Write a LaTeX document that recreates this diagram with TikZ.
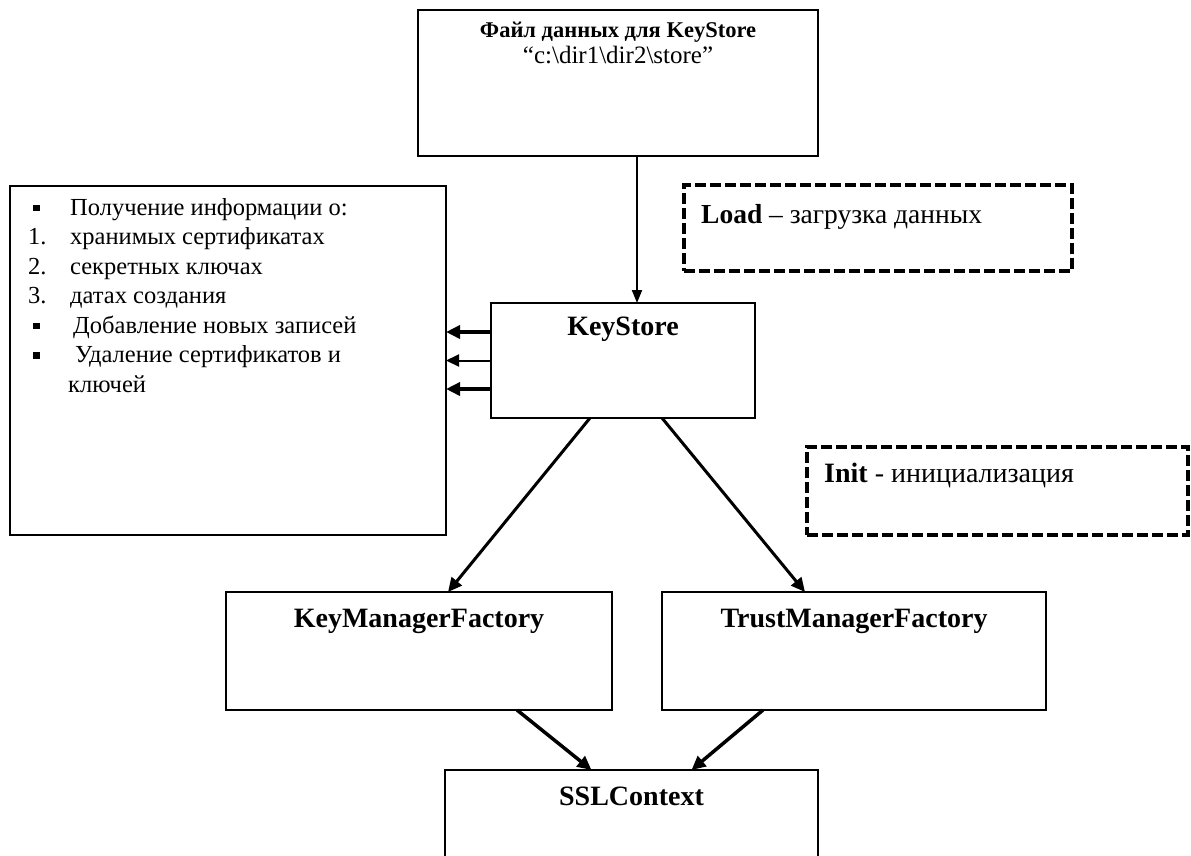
\documentclass[tikz,border=0pt]{standalone}
\usepackage{fontspec}
\setmainfont{Liberation Serif}
\usetikzlibrary{positioning,arrows.meta}

\newcommand{\mk}[1]{\makebox[42pt][l]{#1}}
\newcommand{\sq}{\hspace{5pt}\rule[4pt]{6.5pt}{6.5pt}}

\begin{document}
\begin{tikzpicture}[x=1pt, y=1pt,
    block/.style={rectangle, draw, line width=1.6pt, inner sep=0pt, outer sep=0pt},
    note/.style={rectangle, draw, line width=3.5pt, dash pattern=on 11pt off 4pt,
                 inner sep=0pt, outer sep=0pt},
    title/.style={inner sep=0pt, font=\fontsize{28}{30}\selectfont\bfseries},
    plain/.style={inner sep=0pt, font=\fontsize{24.5}{29.5}\selectfont},
    arr/.style={-{Triangle[length=14pt,width=13pt]}}]

   \useasboundingbox (0,0) rectangle (1191,-855);
   \clip (0,0) rectangle (1191,-855);

   % boxes
   \node[block, minimum width=400pt, minimum height=146pt] (file) at (618,-83)    {};
   \node[block, minimum width=264pt, minimum height=115pt] (ks)   at (623,-360.5) {};
   \node[block, minimum width=436pt, minimum height=349pt] (info) at (228,-360.5) {};
   \node[block, minimum width=386pt, minimum height=118pt] (kmf)  at (419,-651)   {};
   \node[block, minimum width=384pt, minimum height=118pt] (tmf)  at (854,-651)   {};
   \node[block, minimum width=373pt, minimum height=130pt] (ssl)  at (631.5,-835) {};
   \node[note,  minimum width=388pt, minimum height=86pt]  (load) at (878,-228)   {};
   \node[note,  minimum width=381pt, minimum height=88pt]  (init) at (997.5,-491) {};

   % texts
   \node[title, font=\fontsize{22.5}{26}\selectfont\bfseries, align=center,
         below=12pt of file.north] (filetxt)
        {Файл данных для KeyStore\\{\mdseries\fontsize{25}{26}\selectfont
         “c:\textbackslash dir1\textbackslash dir2\textbackslash store”}};
   \node[title, below=14pt of ks.north]  (kstxt)  {KeyStore};
   \node[title, below=17pt of kmf.north] (kmftxt) {KeyManagerFactory};
   \node[title, below=17pt of tmf.north] (tmftxt) {TrustManagerFactory};
   \node[title, below=17pt of ssl.north] (ssltxt) {SSLContext};
   \node[plain, font=\fontsize{27.5}{30}\selectfont, below right=19pt and 17pt of load.north west] (loadtxt)
        {\textbf{Load} – загрузка данных};
   \node[plain, font=\fontsize{28}{30}\selectfont, below right=16pt and 17pt of init.north west] (inittxt)
        {\textbf{Init} - инициализация};
   \node[plain, align=left, below right=12pt and 18pt of info.north west] (infotxt)
        {\mk{\sq}Получение информации о:\\
         \mk{1.}хранимых сертификатах\\
         \mk{2.}секретных ключах\\
         \mk{3.}датах создания\\
         \mk{\sq}\hspace{3pt}Добавление новых записей\\
         \mk{\sq}\hspace{5pt}Удаление сертификатов и\\
         \hspace{40pt}ключей};

   % connectors
   \draw[-{Triangle[length=13pt,width=10pt]}, line width=2pt]
        ([xshift=19pt]file.south) to ([xshift=19pt]file.south |- ks.north);

   \draw[arr, line width=4.5pt] ([yshift=28.5pt]ks.west)  to ([yshift=28.5pt]ks.west -| info.east);
   \draw[-{Triangle[length=13pt,width=12pt]}, line width=2pt] (ks.west) to (ks.west -| info.east);
   \draw[arr, line width=4.5pt] ([yshift=-28.5pt]ks.west) to ([yshift=-28.5pt]ks.west -| info.east);

   \draw[arr, line width=3pt] ([xshift=-33pt]ks.south) to ([xshift=29pt]kmf.north);
   \draw[arr, line width=3pt] ([xshift=39pt]ks.south)  to ([xshift=-49pt]tmf.north);

   \draw[arr, line width=3.5pt] ([xshift=98pt]kmf.south)  to ([xshift=-40pt]ssl.north);
   \draw[arr, line width=3.5pt] ([xshift=-91pt]tmf.south) to ([xshift=60pt]ssl.north);

\end{tikzpicture}
\end{document}
